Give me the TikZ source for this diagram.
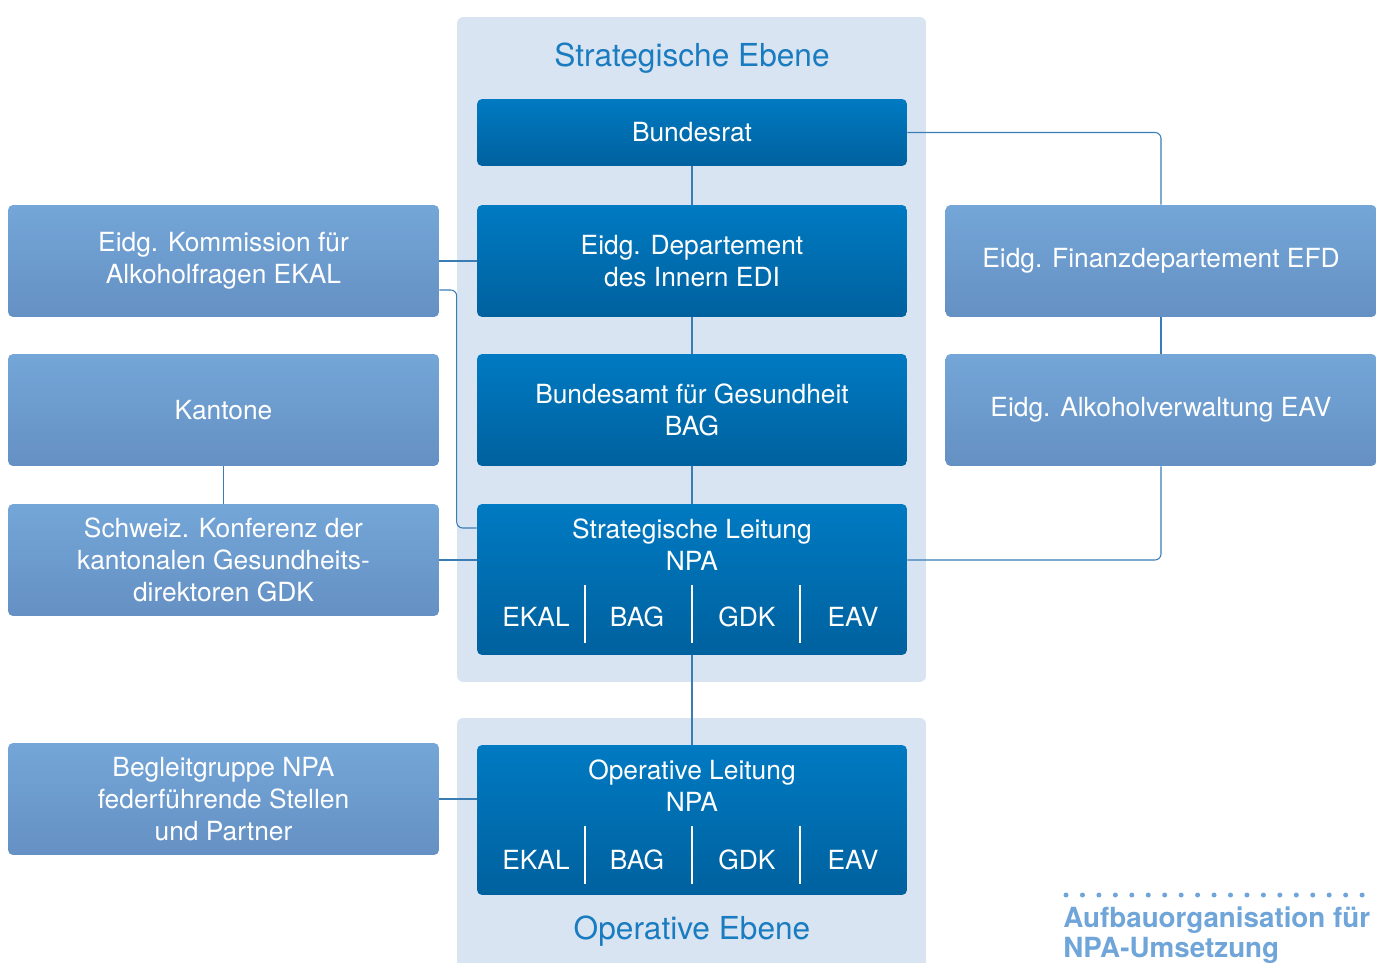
\documentclass[tikz,border=0pt]{standalone}
\usepackage{fontspec}
\setmainfont{TeX Gyre Heros}
\usetikzlibrary{positioning, calc}

\definecolor{panelblue}{HTML}{D9E4F2}
\definecolor{darktop}{HTML}{007AC2}
\definecolor{darkbot}{HTML}{00619E}
\definecolor{lighttop}{HTML}{74A6D8}
\definecolor{lightbot}{HTML}{6590C3}
\definecolor{titleblue}{HTML}{1A7CC0}
\definecolor{linkblue}{HTML}{3A7DB5}
\definecolor{capblue}{HTML}{6FA5D8}

\tikzset{
    panel/.style={fill=panelblue, rounded corners=0.12cm, minimum width=9.38cm},
    darkbox/.style={top color=darktop, bottom color=darkbot, rounded corners=0.1cm,
        minimum width=8.6cm, text=white, align=center,
        font=\fontsize{15}{18.2}\selectfont},
    lightbox/.style={top color=lighttop, bottom color=lightbot, rounded corners=0.1cm,
        minimum width=8.62cm, minimum height=2.24cm, text=white, align=center,
        font=\fontsize{15}{18.2}\selectfont},
    boxtext/.style={text=white, align=center, font=\fontsize{15}{18.2}\selectfont},
    leveltitle/.style={text=titleblue, font=\fontsize{18}{21}\selectfont},
    link/.style={draw=linkblue, line width=0.6pt, rounded corners=0.12cm},
    caption/.style={text=capblue, font=\fontsize{15.8}{18}\bfseries\selectfont, inner sep=0pt}
}

\begin{document}
\begin{tikzpicture}[x=0.02cm, y=-0.02cm]
    \useasboundingbox (0,0) rectangle (1376,963);
    \clip (0,0) rectangle (1376,963);

    % Level panels
    \node[panel, minimum height=13.3cm] (strat) at (691.5,349.5) {};
    \node[panel, minimum height=5.14cm] (oper) at (691.5,846.5) {};
    \node[leveltitle] (strattitle) at (692,58) {Strategische Ebene};
    \node[leveltitle] (opertitle) at (692,931) {Operative Ebene};

    % Central column
    \node[darkbox, minimum height=1.34cm] (br) at (692,132.5) {Bundesrat};
    \node[darkbox, minimum height=2.24cm] (edi) at (692,261) {Eidg. Departement\\des Innern EDI};
    \node[darkbox, minimum height=2.24cm] (bag) at (692,410) {Bundesamt für Gesundheit\\BAG};
    \node[darkbox, minimum height=3.02cm] (sl) at (692,579.5) {};
    \node[darkbox, minimum height=3.0cm] (ol) at (692,820) {};

    \node[boxtext] (sltitle) at (692,545) {Strategische Leitung\\NPA};
    \node[boxtext] (oltitle) at (692,786) {Operative Leitung\\NPA};
    \foreach \name/\xx in {EKAL/536,BAG/637,GDK/747,EAV/853} {
        \node[boxtext] (sl-\name) at (\xx,617) {\name};
        \node[boxtext] (ol-\name) at (\xx,860) {\name};
    }
    \foreach \xx in {585,692,800} {
        \draw[white, line width=0.8pt] (\xx,585) -- (\xx,643);
        \draw[white, line width=0.8pt] (\xx,826) -- (\xx,884);
    }

    % Left column
    \node[lightbox] (ekal) at (223.5,261) {Eidg. Kommission für\\Alkoholfragen EKAL};
    \node[lightbox] (kant) at (223.5,410) {Kantone};
    \node[lightbox] (gdk) at (223.5,560) {Schweiz. Konferenz der\\kantonalen Gesundheits-\\direktoren GDK};
    \node[lightbox] (begl) at (223.5,799) {Begleitgruppe NPA\\federführende Stellen\\und Partner};

    % Right column
    \node[lightbox] (efd) at (1161,261) {Eidg. Finanzdepartement EFD};
    \node[lightbox] (eav) at (1161,410) {Eidg. Alkoholverwaltung EAV};

    % Connectors
    \draw[link] (br.south) -- (edi.north);
    \draw[link] (edi.south) -- (bag.north);
    \draw[link] (bag.south) -- (sl.north);
    \draw[link] (sl.south) -- (ol.north);
    \draw[link] (ekal.east) -- (edi.west);
    \coordinate (ekalin) at ([yshift=1.03cm]sl.west);
    \draw[link] ([yshift=-0.58cm]ekal.east) -| (strat.west |- ekalin) -- (ekalin);
    \draw[link] (kant.south) -- (gdk.north);
    \draw[link] (gdk.east) -- (gdk.east -| sl.west);
    \draw[link] (begl.east) -- (begl.east -| ol.west);
    \draw[link] (br.east) -| (efd.north);
    \draw[link] (efd.south) -- (eav.north);
    \coordinate (slright) at (sl.east |- gdk.east);
    \draw[link] (eav.south) |- (slright);

    % Caption
    \foreach \i in {0,...,19}
        \fill[capblue] (1066+\i*16.45,895) circle (0.05cm);
    \node[caption, anchor=base west] (cap1) at (1063,927) {Aufbauorganisation für};
    \node[caption, anchor=base west] (cap2) at (1063,957) {NPA-Umsetzung};
\end{tikzpicture}
\end{document}
